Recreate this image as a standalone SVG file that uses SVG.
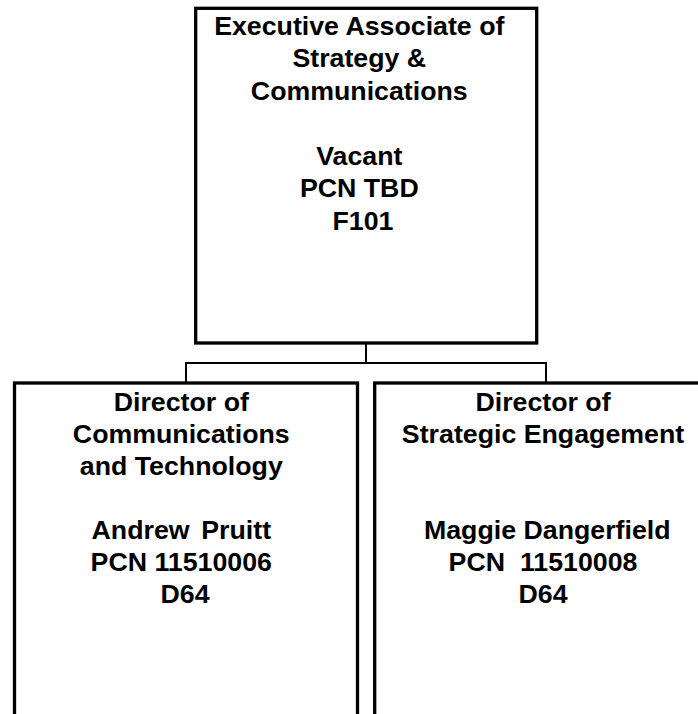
<svg xmlns="http://www.w3.org/2000/svg" width="698" height="714" viewBox="0 0 698 714">
  <style>
    .box { fill: #ffffff; stroke: #000000; stroke-width: 3.3; }
    .conn { fill: none; stroke: #000000; stroke-width: 2; }
    .lbl { font-family: "Liberation Sans", Arial, sans-serif; font-weight: bold; font-size: 25px; fill: #000000; text-anchor: middle; }
  </style>
  <rect x="0" y="0" width="698" height="714" fill="#ffffff"/>
  <g id="connectors">
    <path class="conn" d="M366,343 V363 M186,363 H546 M186,362 V383 M546,362 V383"/>
  </g>
  <g id="node-executive">
    <rect class="box" x="195.7" y="8.3" width="341" height="334.7"/>
    <g transform="translate(363,0) scale(1.07,1)">
      <text class="lbl">
        <tspan x="0" y="35">Executive Associate of</tspan>
        <tspan x="0" y="67.5">Strategy &amp;</tspan>
        <tspan x="0" y="100">Communications</tspan>
        <tspan x="0" y="165">Vacant</tspan>
        <tspan x="0" y="197.5">PCN TBD</tspan>
        <tspan x="0" y="230">F101</tspan>
      </text>
    </g>
  </g>
  <g id="node-comm-tech">
    <rect class="box" x="14.5" y="383" width="343" height="360"/>
    <g transform="translate(185,0) scale(1.07,1)">
      <text class="lbl">
        <tspan x="0" y="411">Director of</tspan>
        <tspan x="0" y="443">Communications</tspan>
        <tspan x="0" y="475">and Technology</tspan>
        <tspan x="0" y="539" word-spacing="4">Andrew Pruitt</tspan>
        <tspan x="0" y="571">PCN 11510006</tspan>
        <tspan x="0" y="603">D64</tspan>
      </text>
    </g>
  </g>
  <g id="node-strategic">
    <rect class="box" x="374.7" y="383" width="337" height="360"/>
    <g transform="translate(543,0) scale(1.07,1)">
      <text class="lbl" xml:space="preserve"><tspan x="0" y="411">Director of</tspan><tspan x="0" y="443">Strategic Engagement</tspan><tspan x="4" y="539">Maggie Dangerfield</tspan><tspan x="0" y="571">PCN  11510008</tspan><tspan x="0" y="603">D64</tspan></text>
    </g>
  </g>
</svg>
